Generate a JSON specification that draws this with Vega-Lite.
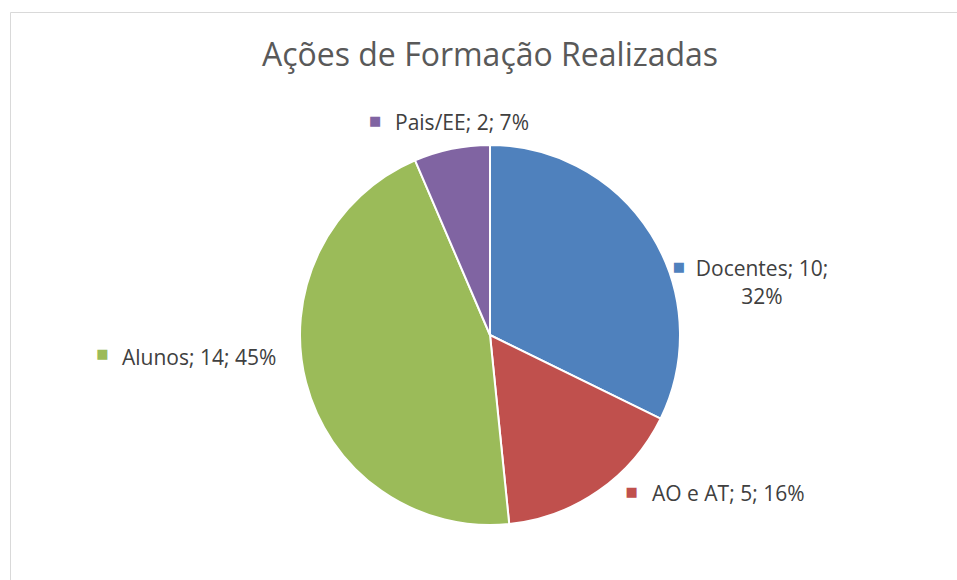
{
  "$schema": "https://vega.github.io/schema/vega-lite/v6.json",
  "width": 957,
  "height": 580,
  "autosize": {"type": "fit", "contains": "padding"},
  "padding": {"left": 10, "top": 12, "right": -13, "bottom": -78},
  "background": "white",
  "view": {"stroke": "#d9d9d9", "strokeWidth": 1, "fill": "white"},
  "config": {"view": {"stroke": "#d9d9d9", "strokeWidth": 1}},
  "title": {
    "text": "Ações de Formação Realizadas",
    "font": "Open Sans",
    "fontSize": 32,
    "fontWeight": "normal",
    "color": "#595959",
    "anchor": "middle",
    "frame": "group",
    "baseline": "alphabetic",
    "offset": -86
  },
  "data": {
    "values": [
      {"i": 1, "cat": "Docentes", "n": 10, "label": "Docentes; 10;\n32%"},
      {"i": 2, "cat": "AO e AT", "n": 5, "label": "AO e AT; 5; 16%"},
      {"i": 3, "cat": "Alunos", "n": 14, "label": "Alunos; 14; 45%"},
      {"i": 4, "cat": "Pais/EE", "n": 2, "label": "Pais/EE; 2; 7%"}
    ]
  },
  "encoding": {
    "theta": {"field": "n", "type": "quantitative", "stack": true},
    "order": {"field": "i", "type": "quantitative"},
    "color": {
      "field": "cat",
      "type": "nominal",
      "scale": {
        "domain": ["Docentes", "AO e AT", "Alunos", "Pais/EE"],
        "range": ["#4F81BD", "#C0504D", "#9BBB59", "#8064A2"]
      },
      "legend": null
    }
  },
  "layer": [
    {"mark": {"type": "arc", "outerRadius": 190, "stroke": "white", "strokeWidth": 2}},
    {
      "mark": {"type": "text", "radius": 215, "font": "Open Sans", "fontSize": 21, "align": "center", "baseline": "alphabetic", "lineBreak": "\n", "lineHeight": 28, "dx": 89.5, "dy": 54.7},
      "encoding": {
        "color": {"value": "#404040"},
        "text": {"condition": {"test": "datum.cat === 'Docentes'", "field": "label"}, "value": ""}
      }
    },
    {
      "mark": {"type": "text", "radius": 215, "font": "Open Sans", "fontSize": 21, "align": "left", "baseline": "alphabetic", "dx": 39.2, "dy": -10.5},
      "encoding": {
        "color": {"value": "#404040"},
        "text": {"condition": {"test": "datum.cat === 'AO e AT'", "field": "label"}, "value": ""}
      }
    },
    {
      "mark": {"type": "text", "radius": 215, "font": "Open Sans", "fontSize": 21, "align": "left", "baseline": "alphabetic", "dx": -159.9, "dy": -23.9},
      "encoding": {
        "color": {"value": "#404040"},
        "text": {"condition": {"test": "datum.cat === 'Alunos'", "field": "label"}, "value": ""}
      }
    },
    {
      "mark": {"type": "text", "radius": 215, "font": "Open Sans", "fontSize": 21, "align": "left", "baseline": "alphabetic", "dx": -51.7, "dy": 5.5},
      "encoding": {
        "color": {"value": "#404040"},
        "text": {"condition": {"test": "datum.cat === 'Pais/EE'", "field": "label"}, "value": ""}
      }
    },
    {
      "mark": {"type": "text", "radius": 215, "font": "DejaVu Sans", "fontSize": 13, "align": "center", "baseline": "middle", "dx": 6.5, "dy": 46.2},
      "encoding": {
        "text": {"condition": {"test": "datum.cat === 'Docentes'", "value": "■"}, "value": ""}
      }
    },
    {
      "mark": {"type": "text", "radius": 215, "font": "DejaVu Sans", "fontSize": 13, "align": "center", "baseline": "middle", "dx": 18.7, "dy": -19},
      "encoding": {
        "text": {"condition": {"test": "datum.cat === 'AO e AT'", "value": "■"}, "value": ""}
      }
    },
    {
      "mark": {"type": "text", "radius": 215, "font": "DejaVu Sans", "fontSize": 13, "align": "center", "baseline": "middle", "dx": -179.4, "dy": -34.9},
      "encoding": {
        "text": {"condition": {"test": "datum.cat === 'Alunos'", "value": "■"}, "value": ""}
      }
    },
    {
      "mark": {"type": "text", "radius": 215, "font": "DejaVu Sans", "fontSize": 13, "align": "center", "baseline": "middle", "dx": -71.7, "dy": -3},
      "encoding": {
        "text": {"condition": {"test": "datum.cat === 'Pais/EE'", "value": "■"}, "value": ""}
      }
    }
  ]
}
